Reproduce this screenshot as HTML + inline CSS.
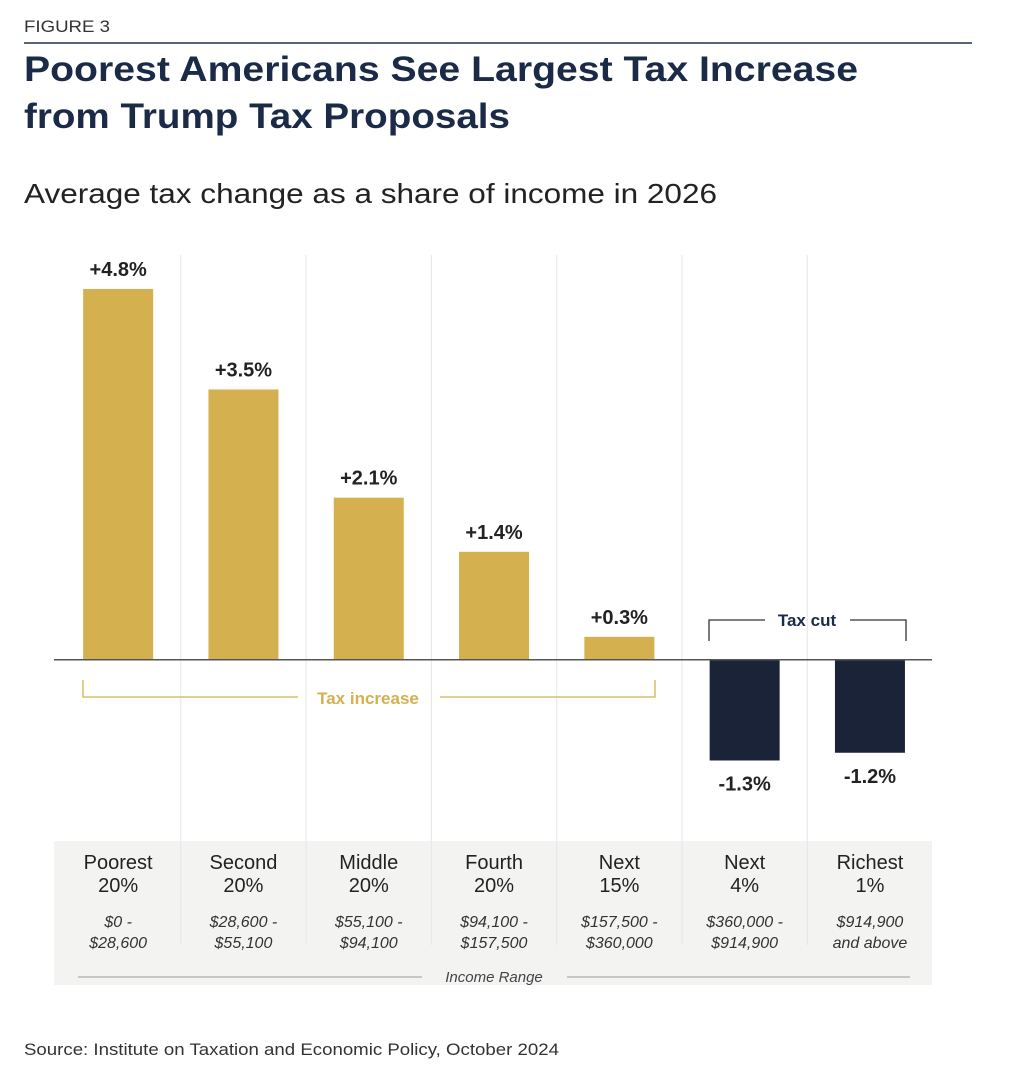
<!DOCTYPE html>
<html><head><meta charset="utf-8">
<style>
body{margin:0;background:#fff;width:1011px;height:1066px;overflow:hidden;font-family:"Liberation Sans",sans-serif;}
svg{display:block}
</style></head>
<body>
<svg id="chart" width="1011" height="1066">
<text x="24" y="32" font-size="17" fill="#333" textLength="86" lengthAdjust="spacingAndGlyphs">FIGURE 3</text>
<rect x="24" y="42" width="948" height="2" fill="#5a6478"/>
<text x="24" y="81" font-size="35" font-weight="bold" fill="#1b2a47" textLength="834" lengthAdjust="spacingAndGlyphs">Poorest Americans See Largest Tax Increase</text>
<text x="24" y="128" font-size="35" font-weight="bold" fill="#1b2a47" textLength="486" lengthAdjust="spacingAndGlyphs">from Trump Tax Proposals</text>
<text x="24" y="203" font-size="28" fill="#222" textLength="693" lengthAdjust="spacingAndGlyphs">Average tax change as a share of income in 2026</text>
<rect x="54" y="841" width="878" height="144" fill="#f3f3f2"/>
<g id="grid"></g>
<g id="bars"></g>
<rect x="54" y="659" width="878" height="1.5" fill="#555"/>
<g fill="none" stroke="#d4b14e" stroke-width="1.3">
<path d="M83 680 V697 H298 M440 697 H655 V680"/>
</g>
<text x="368" y="704" font-size="17" font-weight="bold" fill="#d4b14e" text-anchor="middle">Tax increase</text>
<g fill="none" stroke="#333" stroke-width="1.3">
<path d="M709 641 V620 H765 M850 620 H906 V641"/>
</g>
<text x="807" y="626" font-size="17" font-weight="bold" fill="#1b2a47" text-anchor="middle">Tax cut</text>
<g id="cats"></g>
<g stroke="#aaa" stroke-width="1.3">
<line x1="78" y1="977" x2="422" y2="977"/><line x1="567" y1="977" x2="910" y2="977"/>
</g>
<text x="494" y="982" font-size="15" font-style="italic" fill="#444" text-anchor="middle">Income Range</text>
<text x="24" y="1055" font-size="17" fill="#333" textLength="535" lengthAdjust="spacingAndGlyphs">Source: Institute on Taxation and Economic Policy, October 2024</text>
</svg>
<script>
const groups = ["Poorest","Second","Middle","Fourth","Next","Next","Richest"];
const shares = ["20%","20%","20%","20%","15%","4%","1%"];
const rangeLo = ["$0 -","$28,600 -","$55,100 -","$94,100 -","$157,500 -","$360,000 -","$914,900"];
const rangeHi = ["$28,600","$55,100","$94,100","$157,500","$360,000","$914,900","and above"];
const values = [4.8,3.5,2.1,1.4,0.3,-1.3,-1.2];
const NS="http://www.w3.org/2000/svg";
const x0=55.5, colW=125.3, barW=70, zeroY=660, pxPer=77.3;
const xc=i=>x0+colW*(i+0.5);
const y=v=>zeroY-v*pxPer;
function mk(tag,attrs,parent,txt){const e=document.createElementNS(NS,tag);for(const k in attrs)e.setAttribute(k,attrs[k]);if(txt!==undefined)e.textContent=txt;document.getElementById(parent).appendChild(e);return e;}
for(let i=1;i<values.length;i++){
  const l=mk('line',{x1:x0+colW*i,x2:x0+colW*i,y1:255,y2:945,stroke:'#e6e6e6','stroke-width':1},'grid');
  
  
}
values.forEach((v,i)=>{
  const top=Math.min(y(v),zeroY), h=Math.abs(y(v)-zeroY);
  const r=mk('rect',{x:xc(i)-barW/2,y:top,width:barW,height:h,fill:v>=0?'#d4b14e':'#1b2338'},'bars');
  
  
  const ty=v>=0?y(v)-13:y(v)+30;
  const t=mk('text',{x:xc(i),y:ty,'font-size':20,'font-weight':'bold',fill:'#222','text-anchor':'middle'},'bars',(v>=0?'+':'')+v.toFixed(1)+'%');
  
  
});
groups.forEach((g,i)=>{
  const a=mk('text',{x:xc(i),y:869,'font-size':20,fill:'#222','text-anchor':'middle'},'cats',g);
  
  
  const b=mk('text',{x:xc(i),y:892,'font-size':20,fill:'#222','text-anchor':'middle'},'cats',shares[i]);
  
  
  const c=mk('text',{x:xc(i),y:927,'font-size':16,'font-style':'italic',fill:'#333','text-anchor':'middle'},'cats',rangeLo[i]);
  
  
  const d=mk('text',{x:xc(i),y:948,'font-size':16,'font-style':'italic',fill:'#333','text-anchor':'middle'},'cats',rangeHi[i]);
  
  
});
</script>
</body></html>
